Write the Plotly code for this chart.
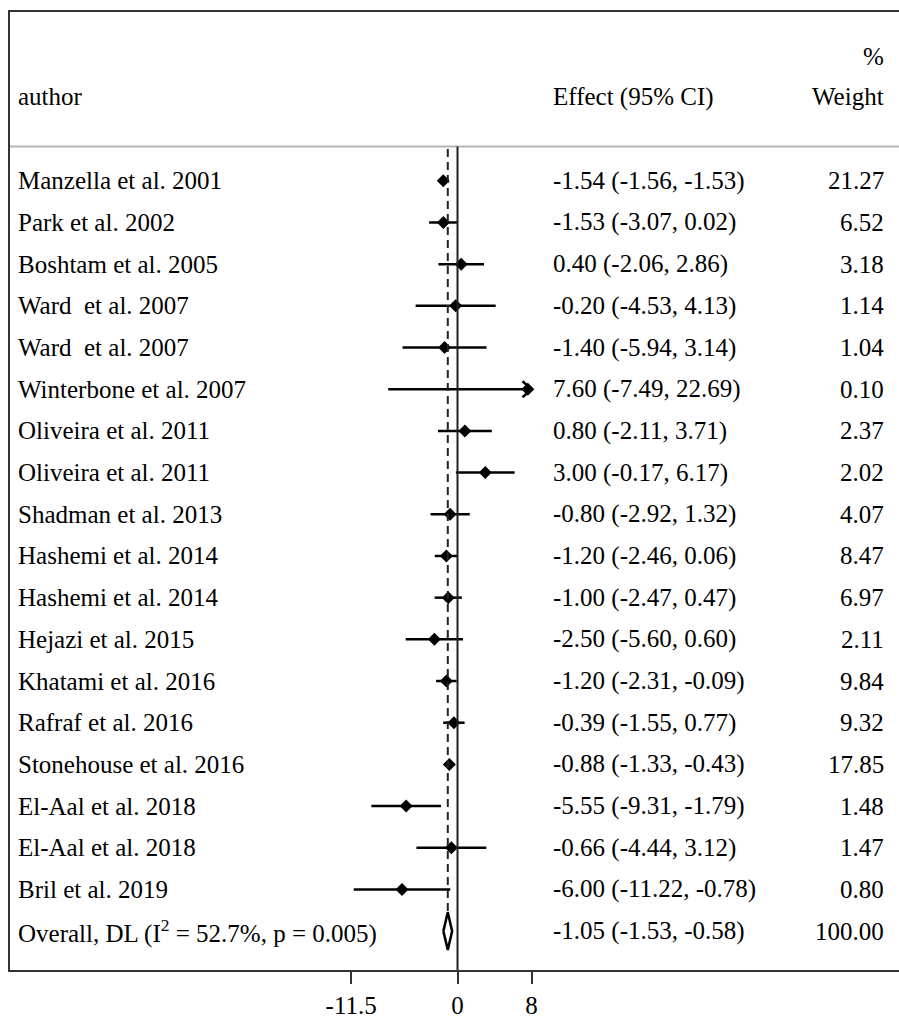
import plotly.graph_objects as go

authors = ["Manzella et al. 2001", "Park et al. 2002", "Boshtam et al. 2005",
           "Ward\u00a0 et al. 2007", "Ward\u00a0 et al. 2007", "Winterbone et al. 2007",
           "Oliveira et al. 2011", "Oliveira et al. 2011", "Shadman et al. 2013",
           "Hashemi et al. 2014", "Hashemi et al. 2014", "Hejazi et al. 2015",
           "Khatami et al. 2016", "Rafraf et al. 2016", "Stonehouse et al. 2016",
           "El-Aal et al. 2018", "El-Aal et al. 2018", "Bril et al. 2019"]
effects = [-1.54, -1.53, 0.40, -0.20, -1.40, 7.60, 0.80, 3.00, -0.80, -1.20, -1.00,
           -2.50, -1.20, -0.39, -0.88, -5.55, -0.66, -6.00]
lower = [-1.56, -3.07, -2.06, -4.53, -5.94, -7.49, -2.11, -0.17, -2.92, -2.46, -2.47,
         -5.60, -2.31, -1.55, -1.33, -9.31, -4.44, -11.22]
upper = [-1.53, 0.02, 2.86, 4.13, 3.14, 22.69, 3.71, 6.17, 1.32, 0.06, 0.47,
         0.60, -0.09, 0.77, -0.43, -1.79, 3.12, -0.78]
weights = [21.27, 6.52, 3.18, 1.14, 1.04, 0.10, 2.37, 2.02, 4.07, 8.47, 6.97,
           2.11, 9.84, 9.32, 17.85, 1.48, 1.47, 0.80]
overall_label = "Overall, DL (I<sup>2</sup> = 52.7%, p = 0.005)"
overall_effect, overall_lower, overall_upper, overall_weight = -1.05, -1.53, -0.58, 100.00
tick_vals = [-11.5, 0, 8]
tick_text = ["-11.5", "0", "8"]

FONT = "Liberation Serif"
FS = 25
W, H = 899, 1019
ML, MT, MB = 10, 12, 45
X0PX, XSCALE = 457.5, 9.25
ROW0PX, ROWSTEP = 181.5, 41.86

x_rng = [(ML - X0PX) / XSCALE, (W - X0PX) / XSCALE]
y_rng = [(H - MB - ROW0PX) / ROWSTEP, (MT - ROW0PX) / ROWSTEP]
xmax = max(tick_vals)

def py(px):
    return (px - ROW0PX) / ROWSTEP

def pxp(px):
    return (px - ML) / (W - ML)

n = len(authors)
rows = list(range(n))
overall_row = n

fig = go.Figure()

# CI lines
cx, cy = [], []
for i in rows:
    cx += [lower[i], min(upper[i], xmax), None]
    cy += [i, i, None]
fig.add_trace(go.Scatter(x=cx, y=cy, mode="lines", line=dict(color="black", width=2.5),
                         hoverinfo="skip", showlegend=False))
# arrows for truncated CIs
ax, ay = [], []
for i in rows:
    if upper[i] > xmax:
        dx = 9 / XSCALE
        dy = 8 / ROWSTEP
        ax += [xmax - dx, xmax, xmax - dx, None]
        ay += [i - dy, i, i + dy, None]
fig.add_trace(go.Scatter(x=ax, y=ay, mode="lines", line=dict(color="black", width=2.5),
                         hoverinfo="skip", showlegend=False))
# point estimates
fig.add_trace(go.Scatter(x=effects, y=rows, mode="markers",
                         marker=dict(symbol="diamond", size=10, color="black"),
                         showlegend=False))
# overall diamond
h = 0.45
fig.add_trace(go.Scatter(x=[overall_lower, overall_effect, overall_upper, overall_effect, overall_lower],
                         y=[overall_row, overall_row - h, overall_row, overall_row + h, overall_row],
                         mode="lines", fill="toself", fillcolor="white",
                         line=dict(color="black", width=2.5), showlegend=False))

sep_y = py(147)
shapes = [
    dict(type="line", xref="paper", yref="y", x0=0, x1=1, y0=sep_y, y1=sep_y,
         line=dict(color="#b5b5b5", width=2)),
    dict(type="line", xref="x", yref="paper", x0=0, x1=0, y0=0,
         y1=(sep_y - y_rng[0]) / (y_rng[1] - y_rng[0]),
         line=dict(color="#222", width=2)),
    dict(type="line", xref="x", yref="y", x0=overall_effect, x1=overall_effect,
         y0=sep_y + 0.06, y1=overall_row - h,
         line=dict(color="#222", width=2, dash="8px,5px")),
]

ann = []
def txt(x, y, s, anchor="left"):
    ann.append(dict(xref="paper", yref="y", x=x, y=y, text=s, showarrow=False,
                    xanchor=anchor, yanchor="middle",
                    font=dict(family=FONT, size=FS, color="black")))

txt(pxp(16), py(97), "author")
txt(pxp(551), py(97), "Effect (95% CI)")
txt(pxp(886), py(57), "%", "right")
txt(pxp(886), py(97), "Weight", "right")
for i in rows:
    txt(pxp(16), i, authors[i])
    txt(pxp(551), i, f"{effects[i]:.2f} ({lower[i]:.2f}, {upper[i]:.2f})")
    txt(pxp(886), i, f"{weights[i]:.2f}", "right")
txt(pxp(16), overall_row, overall_label)
txt(pxp(551), overall_row, f"{overall_effect:.2f} ({overall_lower:.2f}, {overall_upper:.2f})")
txt(pxp(886), overall_row, f"{overall_weight:.2f}", "right")

fig.update_layout(
    width=W, height=H, margin=dict(l=ML, r=0, t=MT, b=MB),
    paper_bgcolor="white", plot_bgcolor="white",
    font=dict(family=FONT, size=FS, color="black"),
    shapes=shapes, annotations=ann, showlegend=False,
    xaxis=dict(range=x_rng, showgrid=False, zeroline=False, showline=True, mirror=True,
               linecolor="#333", linewidth=2, ticks="outside", ticklen=12, tickwidth=2,
               tickcolor="#333", tickvals=tick_vals, ticktext=tick_text,
               tickfont=dict(family=FONT, size=FS, color="black")),
    yaxis=dict(range=y_rng, showgrid=False, zeroline=False, showline=True, mirror=False,
               linecolor="#333", linewidth=2, showticklabels=False, ticks=""),
)

fig.write_html("out.html", config={"displayModeBar": False},
               post_script="document.body.style.margin='0';document.body.style.overflow='hidden';")
